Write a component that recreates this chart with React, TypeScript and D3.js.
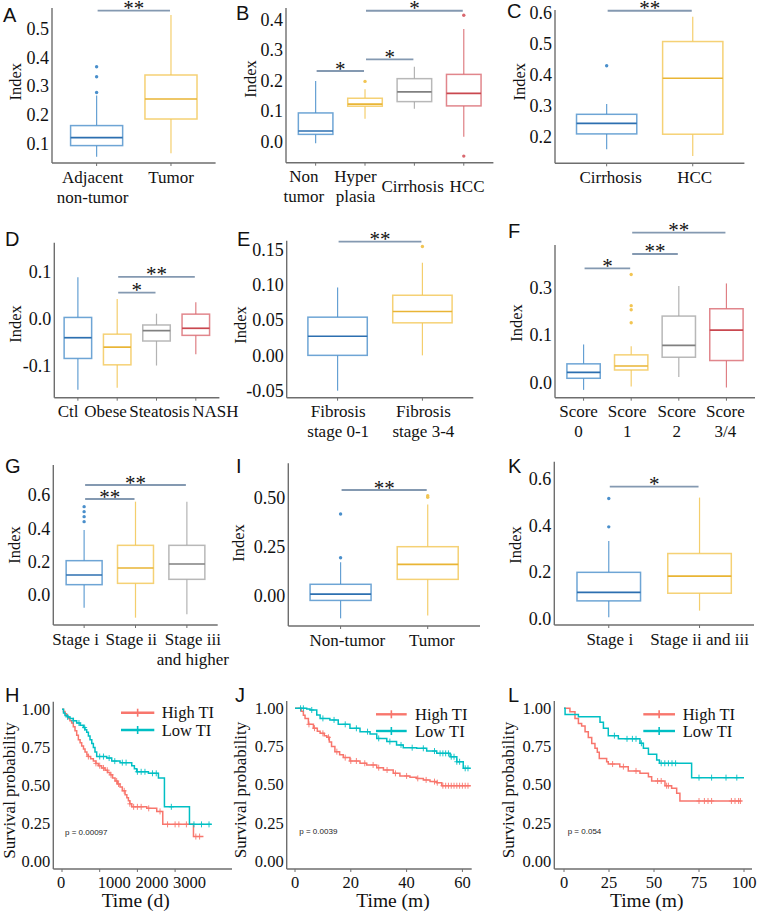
import React from "react";
import * as d3 from "d3";

const SERIF = "'Liberation Serif', 'Times New Roman', serif";
const SANS = "'Liberation Sans', Arial, sans-serif";
const GROUP_COLORS = ["#4A8FCB", "#F2C553", "#A6A6A6", "#D9686F"];
const MEDIAN_COLORS = ["#2C6FB0", "#E9B535", "#808080", "#C9474F"];
const SIG_COLOR = "#8499B1";
const AXIS_COLOR = "#6E6E6E";
const KM_COLORS = ["#F8766D", "#00BFC4"];
const KM_NAMES = ["High TI", "Low TI"];

// ---------- Box plot data: [lower whisker, Q1, median, Q3, upper whisker]
const catsA = ["Adjacent\nnon-tumor", "Tumor"];
const statsA = [[0.053, 0.092, 0.12, 0.162, 0.267], [0.065, 0.185, 0.255, 0.339, 0.549]];
const outliersA = [[0.278, 0.333, 0.368], []];
const ticksA = [0.1, 0.2, 0.3, 0.4, 0.5];
const tickLabelsA = ["0.1", "0.2", "0.3", "0.4", "0.5"];
const sigA = [{ a: 0, b: 1, y: 0.564, label: "**" }];

const catsB = ["Non\ntumor", "Hyper\nplasia", "Cirrhosis", "HCC"];
const statsB = [
  [-0.005, 0.024, 0.035, 0.094, 0.198],
  [0.075, 0.116, 0.123, 0.142, 0.171],
  [0.108, 0.131, 0.163, 0.206, 0.245],
  [0.016, 0.117, 0.158, 0.22, 0.368],
];
const outliersB = [[], [0.197], [], [0.413, -0.047]];
const ticksB = [0, 0.1, 0.2, 0.3, 0.4];
const tickLabelsB = ["0.0", "0.1", "0.2", "0.3", "0.4"];
const sigB = [
  { a: 0, b: 1, y: 0.231, label: "*" },
  { a: 1, b: 2, y: 0.269, label: "*" },
  { a: 1, b: 3, y: 0.428, label: "*" },
];

const catsC = ["Cirrhosis", "HCC"];
const statsC = [[0.16, 0.209, 0.243, 0.272, 0.305], [0.138, 0.208, 0.388, 0.506, 0.586]];
const outliersC = [[0.428], []];
const ticksC = [0.2, 0.3, 0.4, 0.5, 0.6];
const tickLabelsC = ["0.2", "0.3", "0.4", "0.5", "0.6"];
const sigC = [{ a: 0, b: 1, y: 0.605, label: "**" }];

const catsD = ["Ctl", "Obese", "Steatosis", "NASH"];
const statsD = [
  [-0.1505, -0.084, -0.04, 0.003, 0.088],
  [-0.146, -0.0975, -0.06, -0.0325, 0.042],
  [-0.099, -0.047, -0.025, -0.013, 0.011],
  [-0.075, -0.035, -0.02, 0.01, 0.035],
];
const outliersD = [[], [], [], []];
const ticksD = [-0.1, 0, 0.1];
const tickLabelsD = ["-0.1", "0.0", "0.1"];
const sigD = [
  { a: 1, b: 2, y: 0.0557, label: "*" },
  { a: 1, b: 3, y: 0.089, label: "**" },
];

const catsE = ["Fibrosis\nstage 0-1", "Fibrosis\nstage 3-4"];
const statsE = [[-0.05, 0, 0.027, 0.054, 0.096], [0.0, 0.046, 0.062, 0.085, 0.131]];
const outliersE = [[], [0.154]];
const ticksE = [-0.05, 0, 0.05, 0.1, 0.15];
const tickLabelsE = ["-0.05", "0.00", "0.05", "0.10", "0.15"];
const sigE = [{ a: 0, b: 1, y: 0.1608, label: "**" }];

const catsF = ["Score\n0", "Score\n1", "Score\n2", "Score\n3/4"];
const statsF = [
  [-0.016, 0.0085, 0.021, 0.039, 0.08],
  [-0.009, 0.026, 0.0345, 0.058, 0.076],
  [0.011, 0.053, 0.078, 0.18, 0.307],
  [-0.011, 0.046, 0.121, 0.211, 0.318],
];
const outliersF = [[], [0.152, 0.207, 0.224, 0.356], [], []];
const ticksF = [0, 0.1, 0.3];
const tickLabelsF = ["0.0", "0.1", "0.3"];
const sigF = [
  { a: 0, b: 1, y: 0.382, label: "*" },
  { a: 1, b: 2, y: 0.4425, label: "**" },
  { a: 1, b: 3, y: 0.533, label: "**" },
];

const catsG = ["Stage i", "Stage ii", "Stage iii\nand higher"];
const statsG = [
  [-0.076, 0.062, 0.12, 0.206, 0.39],
  [-0.136, 0.07, 0.162, 0.298, 0.56],
  [-0.116, 0.094, 0.186, 0.298, 0.56],
];
const outliersG = [[0.44, 0.47, 0.5, 0.53], [], []];
const ticksG = [0, 0.2, 0.4, 0.6];
const tickLabelsG = ["0.0", "0.2", "0.4", "0.6"];
const sigG = [
  { a: 0, b: 1, y: 0.576, label: "**" },
  { a: 0, b: 2, y: 0.66, label: "**" },
];

const catsI = ["Non-tumor", "Tumor"];
const statsI = [[-0.115, -0.024, 0.0085, 0.058, 0.17], [-0.1, 0.083, 0.159, 0.249, 0.464]];
const outliersI = [[0.193, 0.415], [0.5, 0.508]];
const ticksI = [0, 0.25, 0.5];
const tickLabelsI = ["0.00", "0.25", "0.50"];
const sigI = [{ a: 0, b: 1, y: 0.537, label: "**" }];

const catsK = ["Stage i", "Stage ii and iii"];
const statsK = [[0.004, 0.075, 0.112, 0.198, 0.333], [0.033, 0.108, 0.182, 0.279, 0.52]];
const outliersK = [[0.394, 0.516], []];
const ticksK = [0, 0.2, 0.4, 0.6];
const tickLabelsK = ["0.0", "0.2", "0.4", "0.6"];
const sigK = [{ a: 0, b: 1, y: 0.567, label: "*" }];

// ---------- Survival data: [time, survival] step points
const highH = [[0, 1.0], [40, 0.985], [80, 0.97], [120, 0.955], [168, 0.94], [210, 0.925], [257, 0.91], [300, 0.885], [345, 0.86], [390, 0.83], [434, 0.8], [480, 0.78], [522, 0.76], [570, 0.74], [611, 0.72], [660, 0.7], [699, 0.69], [760, 0.675], [832, 0.66], [900, 0.645], [965, 0.63], [1050, 0.615], [1142, 0.6], [1210, 0.585], [1274, 0.57], [1340, 0.55], [1407, 0.53], [1470, 0.51], [1540, 0.49], [1600, 0.465], [1673, 0.44], [1720, 0.42], [1761, 0.4], [1800, 0.38], [1850, 0.36], [2248, 0.35], [2513, 0.33], [2673, 0.245], [3487, 0.165]];
const lowH = [[0, 1.0], [40, 0.975], [80, 0.96], [150, 0.95], [212, 0.94], [300, 0.925], [389, 0.91], [480, 0.895], [566, 0.88], [610, 0.865], [655, 0.85], [700, 0.825], [743, 0.8], [790, 0.775], [832, 0.75], [875, 0.72], [920, 0.69], [1186, 0.68], [1319, 0.66], [1540, 0.65], [1850, 0.63], [1920, 0.61], [1982, 0.59], [2292, 0.58], [2558, 0.55], [2717, 0.36], [3381, 0.245]];
const endH = [3752, 3973];
const censorHighH = [700, 900, 1000, 1100, 1200, 1300, 1450, 1500, 1650, 1800, 1900, 2000, 2100, 2300, 2600, 2800, 3000, 3100, 3300, 3550, 3650];
const censorLowH = [150, 300, 450, 600, 1000, 1100, 1250, 1400, 1600, 1700, 2000, 2100, 2200, 2400, 2500, 2900, 3500, 3700, 3900];
const xTicksH = [0, 1000, 2000, 3000];

const highJ = [[0, 1.0], [2.2, 0.98], [3, 0.955], [3.6, 0.934], [4.8, 0.895], [6.6, 0.87], [8, 0.85], [9, 0.836], [10.5, 0.82], [11.4, 0.81], [12.3, 0.78], [13.1, 0.75], [14.3, 0.716], [16, 0.695], [17.3, 0.677], [19.7, 0.655], [23.3, 0.64], [25.7, 0.629], [29.3, 0.611], [31.7, 0.596], [35.2, 0.574], [37.6, 0.557], [41.2, 0.548], [43.6, 0.541], [46, 0.531], [48.4, 0.52], [50.8, 0.513], [52.6, 0.493]];
const lowJ = [[0, 1.0], [4.2, 0.995], [5.4, 0.989], [7.8, 0.956], [9, 0.934], [12.5, 0.924], [15.5, 0.895], [19.7, 0.869], [23.3, 0.847], [26.9, 0.832], [29.3, 0.803], [32.9, 0.782], [36.4, 0.76], [38.8, 0.742], [43.6, 0.738], [47.2, 0.72], [50.8, 0.705], [55.6, 0.683], [58, 0.65], [60.3, 0.607]];
const endJ = [63, 63];
const censorHighJ = [5, 7, 10, 12, 15, 18, 20, 22, 25, 28, 30, 33, 36, 40, 44, 47, 50, 51, 53, 54, 55, 56, 57, 58, 59, 60, 61, 62];
const censorLowJ = [2, 3, 6, 10, 14, 18, 22, 26, 30, 34, 38, 42, 46, 50, 52, 53, 54, 55, 56, 57, 58, 59, 61, 62];
const xTicksJ = [0, 20, 40, 60];

const highL = [[0, 1.0], [3.3, 0.978], [6.1, 0.934], [8, 0.9], [9.8, 0.884], [11.7, 0.847], [13.5, 0.808], [15.4, 0.77], [17.2, 0.738], [18.5, 0.712], [19.6, 0.672], [23.7, 0.65], [24.6, 0.635], [31, 0.618], [35.7, 0.59], [42.2, 0.574], [46.9, 0.552], [48.7, 0.524], [56.1, 0.493], [59.8, 0.476], [62.6, 0.443], [64.4, 0.393]];
const lowL = [[0, 1.0], [0.6, 0.96], [8, 0.945], [20, 0.908], [21.9, 0.869], [24.6, 0.821], [30.2, 0.8], [42.2, 0.771], [44.1, 0.738], [46.9, 0.699], [51.5, 0.662], [53, 0.64], [70.9, 0.546]];
const endL = [98.7, 100];
const censorHighL = [27, 33, 40, 52, 54, 57, 58, 75, 78, 80, 82, 93, 95, 97, 98];
const censorLowL = [28, 35, 38, 40, 43, 54, 56, 58, 60, 62, 75, 82, 90, 96];
const xTicksL = [0, 25, 50, 75, 100];

const survTicks = [0, 0.25, 0.5, 0.75, 1];
const survTickLabels = ["0.00", "0.25", "0.50", "0.75", "1.00"];

// ---------- layouts (pixel geometry)
const layA = { left: 52, right: 215.6, top: 8, bottom: 163, yDomain: [0.1, 0.5], yRange: [143.3, 29], letter: "A", lx: 3, ly: 21.7, ix: 15, iy: 81.7, centerSingle: false, labelDx: [-4, 0] };
const layB = { left: 286, right: 493.4, top: 8, bottom: 162.7, yDomain: [0, 0.4], yRange: [141.7, 19.3], letter: "B", lx: 236, ly: 20, ix: 250, iy: 79, centerSingle: true, labelDx: [-11.7, -9.5, -1.8, 3.3] };
const layC = { left: 555, right: 744.4, top: 10, bottom: 163.3, yDomain: [0.2, 0.6], yRange: [136.7, 12.3], letter: "C", lx: 507, ly: 17.7, ix: 519.3, iy: 81.7, centerSingle: false, labelDx: [4, 2] };
const layD = { left: 54.3, right: 219.4, top: 242.7, bottom: 397.7, yDomain: [-0.1, 0.1], yRange: [366, 271.7], letter: "D", lx: 5, ly: 245.7, ix: 15, iy: 324, centerSingle: false, labelDx: [-9.7, -11.6, 2.9, 19.5] };
const layE = { left: 286.7, right: 473.3, top: 240.7, bottom: 397.7, yDomain: [-0.05, 0.15], yRange: [390.7, 249.3], letter: "E", lx: 237, ly: 245.7, ix: 240, iy: 325, centerSingle: false, labelDx: [0.6, 1] };
const layF = { left: 555, right: 755, top: 245, bottom: 397.7, yDomain: [0, 0.1, 0.3], yRange: [382.3, 335, 287.7], letter: "F", lx: 508, ly: 238, ix: 516, iy: 323, centerSingle: false, labelDx: [-5, -4, -2, -1] };
const layG = { left: 53.3, right: 217.7, top: 465, bottom: 625, yDomain: [0, 0.6], yRange: [595, 495], letter: "G", lx: 5, ly: 473, ix: 14, iy: 545, centerSingle: false, labelDx: [-8.5, -4.2, 6] };
const layI = { left: 288.3, right: 480, top: 463.3, bottom: 626, yDomain: [0, 0.5], yRange: [595.7, 497.3], letter: "I", lx: 236, ly: 473.3, ix: 238, iy: 543, centerSingle: false, labelDx: [6.8, 4] };
const layK = { left: 554.3, right: 754, top: 461.7, bottom: 625, yDomain: [0, 0.6], yRange: [618.3, 479], letter: "K", lx: 508, ly: 473.3, ix: 515, iy: 545, centerSingle: false, labelDx: [1, 0] };

const kmH = { left: 53.3, right: 232, top: 701.7, bottom: 869, xDomain: [0, 1000], xRange: [62, 99.7], yRange: [861.7, 709.3], letter: "H", lx: 5, ly: 701.7, sx: 9.7, sy: 790.5, tx: 135.7, ty: 907, xTitle: "Time (d)", p: "p = 0.00097", px: 65, py: 831.7, legX1: 121, legX2: 154.3, legTX: 161.7, legY: [712.7, 730], xLabelDx: [-1, 14.5, 14.5, 14.5] };
const kmJ = { left: 286.7, right: 471.7, top: 701, bottom: 869, xDomain: [0, 20], xRange: [295, 350.8], yRange: [861, 708.3], letter: "J", lx: 235, ly: 701.7, sx: 240.8, sy: 790, tx: 393, ty: 906.7, xTitle: "Time (m)", p: "p = 0.0039", px: 299.3, py: 830.7, legX1: 376, legX2: 406.7, legTX: 415, legY: [714.3, 731], xLabelDx: [0, 0, 0, 0] };
const kmL = { left: 554.3, right: 752, top: 701, bottom: 869, xDomain: [0, 25], xRange: [564, 609], yRange: [861, 708.3], letter: "L", lx: 508, ly: 702.3, sx: 509, sy: 790, tx: 646.7, ty: 906.7, xTitle: "Time (m)", p: "p = 0.054", px: 567.7, py: 830.7, legX1: 643.3, legX2: 675, legTX: 682.7, legY: [714.3, 731], xLabelDx: [0, 0, 0, 0, 0] };

function BoxPanel({ cats, stats, outliers, ticks, tickLabels, sig, lay }: any) {
  const y = d3.scaleLinear().domain(lay.yDomain).range(lay.yRange);
  const x = d3.scalePoint<any>().domain(cats.map((_: any, i: number) => i)).range([lay.left, lay.right]).padding(0.6);
  const bw = x.step() * 0.7;
  const maxLines = Math.max(...cats.map((c: string) => c.split("\n").length));
  return (
    <g>
      <text x={lay.lx} y={lay.ly} fontFamily={SANS} fontSize={20} fill="#111">{lay.letter}</text>
      <text transform={`translate(${lay.ix},${lay.iy}) rotate(-90)`} textAnchor="middle" dy="0.35em" fontFamily={SERIF} fontSize={16.5} fill="#111">Index</text>
      <line x1={lay.left} x2={lay.left} y1={lay.top} y2={lay.bottom} stroke={AXIS_COLOR} strokeWidth={1.4} />
      <line x1={lay.left} x2={lay.right} y1={lay.bottom} y2={lay.bottom} stroke={AXIS_COLOR} strokeWidth={1.4} />
      {ticks.map((t: number, i: number) => (
        <text key={"t" + i} x={lay.left - 3} y={y(t)} dy="0.35em" textAnchor="end" fontFamily={SERIF} fontSize={18} fill="#111">{tickLabels[i]}</text>
      ))}
      {cats.map((c: string, i: number) => {
        const cx = x(i) as number;
        const s = stats[i];
        const col = GROUP_COLORS[i];
        const lines = c.split("\n");
        const base = lay.bottom + 19.5 + (lay.centerSingle && lines.length < maxLines ? 10 : 0);
        const lxp = cx + (lay.labelDx ? lay.labelDx[i] : 0);
        return (
          <g key={"c" + i}>
            <line x1={cx} x2={cx} y1={lay.bottom} y2={lay.bottom + 3} stroke={AXIS_COLOR} strokeWidth={1} />
            <line x1={cx} x2={cx} y1={y(s[4])} y2={y(s[3])} stroke={col} strokeWidth={1.2} strokeOpacity={0.85} />
            <line x1={cx} x2={cx} y1={y(s[1])} y2={y(s[0])} stroke={col} strokeWidth={1.2} strokeOpacity={0.85} />
            <rect x={cx - bw / 2} y={y(s[3])} width={bw} height={y(s[1]) - y(s[3])} fill="#fff" stroke={col} strokeWidth={1.5} strokeOpacity={0.8} />
            <line x1={cx - bw / 2} x2={cx + bw / 2} y1={y(s[2])} y2={y(s[2])} stroke={MEDIAN_COLORS[i]} strokeWidth={1.7} />
            {outliers[i].map((o: number, k: number) => (
              <circle key={k} cx={cx} cy={y(o)} r={1.7} fill={col} />
            ))}
            {lines.map((ln: string, k: number) => (
              <text key={"l" + k} x={lxp} y={base + k * 20} textAnchor="middle" fontFamily={SERIF} fontSize={17} fill="#111">{ln}</text>
            ))}
          </g>
        );
      })}
      {sig.map((sg: any, i: number) => {
        const x1 = (x(sg.a) as number) + 1;
        const x2 = (x(sg.b) as number) - 1;
        const yy = y(sg.y);
        return (
          <g key={"s" + i}>
            <line x1={x1} x2={x2} y1={yy} y2={yy} stroke={SIG_COLOR} strokeWidth={1.8} />
            <text x={(x1 + x2) / 2} y={yy + 4.5} textAnchor="middle" fontFamily={SERIF} fontSize={21} fill="#111">{sg.label}</text>
          </g>
        );
      })}
    </g>
  );
}

function stepAt(pts: number[][], t: number) {
  let v = pts[0][1];
  for (const p of pts) if (p[0] <= t) v = p[1];
  return v;
}

function KMPanel({ series, ends, censors, xTicks, lay }: any) {
  const x = d3.scaleLinear().domain(lay.xDomain).range(lay.xRange);
  const y = d3.scaleLinear().domain([0, 1]).range(lay.yRange);
  const line = d3.line<number[]>().x((d) => x(d[0])).y((d) => y(d[1])).curve(d3.curveStepAfter);
  return (
    <g>
      <text x={lay.lx} y={lay.ly} fontFamily={SANS} fontSize={20} fill="#111">{lay.letter}</text>
      <text transform={`translate(${lay.sx},${lay.sy}) rotate(-90)`} textAnchor="middle" dy="0.3em" fontFamily={SERIF} fontSize={17} fill="#111">Survival probability</text>
      <text x={lay.tx} y={lay.ty} textAnchor="middle" fontFamily={SERIF} fontSize={19.5} fill="#111">{lay.xTitle}</text>
      <line x1={lay.left} x2={lay.left} y1={lay.top} y2={lay.bottom} stroke={AXIS_COLOR} strokeWidth={1.4} />
      <line x1={lay.left} x2={lay.right} y1={lay.bottom} y2={lay.bottom} stroke={AXIS_COLOR} strokeWidth={1.4} />
      {survTicks.map((t, i) => (
        <text key={"y" + i} x={lay.left - 3} y={y(t)} dy="0.35em" textAnchor="end" fontFamily={SERIF} fontSize={16.5} fill="#111">{survTickLabels[i]}</text>
      ))}
      {xTicks.map((t: number, i: number) => (
        <g key={"x" + i}>
          <line x1={x(t)} x2={x(t)} y1={lay.bottom} y2={lay.bottom + 3} stroke={AXIS_COLOR} strokeWidth={1} />
          <text x={x(t) + lay.xLabelDx[i]} y={lay.bottom + 18.7} textAnchor="middle" fontFamily={SERIF} fontSize={16.5} fill="#111">{String(t)}</text>
        </g>
      ))}
      {series.map((pts: number[][], si: number) => {
        const full = [...pts, [ends[si], pts[pts.length - 1][1]]];
        return (
          <g key={"s" + si}>
            <path d={line(full) || ""} fill="none" stroke={KM_COLORS[si]} strokeWidth={1.5} />
            {censors[si].map((c: number, k: number) => {
              const cy = y(stepAt(pts, c));
              const cx = x(c);
              return (
                <g key={k} stroke={KM_COLORS[si]} strokeWidth={0.9}>
                  <line x1={cx} x2={cx} y1={cy - 3} y2={cy + 3} />
                  <line x1={cx - 2.5} x2={cx + 2.5} y1={cy} y2={cy} />
                </g>
              );
            })}
          </g>
        );
      })}
      <text x={lay.px} y={lay.py} dy="0.35em" fontFamily={SANS} fontSize={8} fill="#222">{lay.p}</text>
      {KM_NAMES.map((n, i) => (
        <g key={"lg" + i}>
          <line x1={lay.legX1} x2={lay.legX2} y1={lay.legY[i]} y2={lay.legY[i]} stroke={KM_COLORS[i]} strokeWidth={2.4} />
          <line x1={(lay.legX1 + lay.legX2) / 2} x2={(lay.legX1 + lay.legX2) / 2} y1={lay.legY[i] - 4} y2={lay.legY[i] + 4} stroke={KM_COLORS[i]} strokeWidth={1.6} />
          <text x={lay.legTX} y={lay.legY[i]} dy="0.35em" fontFamily={SERIF} fontSize={16.5} fill="#111">{n}</text>
        </g>
      ))}
    </g>
  );
}

export default function App() {
  return (
    <svg width={758} height={915} style={{ position: "absolute", left: 0, top: 0, background: "#fff" }}>
      <rect width={758} height={915} fill="#fff" />
      <BoxPanel cats={catsA} stats={statsA} outliers={outliersA} ticks={ticksA} tickLabels={tickLabelsA} sig={sigA} lay={layA} />
      <BoxPanel cats={catsB} stats={statsB} outliers={outliersB} ticks={ticksB} tickLabels={tickLabelsB} sig={sigB} lay={layB} />
      <BoxPanel cats={catsC} stats={statsC} outliers={outliersC} ticks={ticksC} tickLabels={tickLabelsC} sig={sigC} lay={layC} />
      <BoxPanel cats={catsD} stats={statsD} outliers={outliersD} ticks={ticksD} tickLabels={tickLabelsD} sig={sigD} lay={layD} />
      <BoxPanel cats={catsE} stats={statsE} outliers={outliersE} ticks={ticksE} tickLabels={tickLabelsE} sig={sigE} lay={layE} />
      <BoxPanel cats={catsF} stats={statsF} outliers={outliersF} ticks={ticksF} tickLabels={tickLabelsF} sig={sigF} lay={layF} />
      <BoxPanel cats={catsG} stats={statsG} outliers={outliersG} ticks={ticksG} tickLabels={tickLabelsG} sig={sigG} lay={layG} />
      <BoxPanel cats={catsI} stats={statsI} outliers={outliersI} ticks={ticksI} tickLabels={tickLabelsI} sig={sigI} lay={layI} />
      <BoxPanel cats={catsK} stats={statsK} outliers={outliersK} ticks={ticksK} tickLabels={tickLabelsK} sig={sigK} lay={layK} />
      <KMPanel series={[highH, lowH]} ends={endH} censors={[censorHighH, censorLowH]} xTicks={xTicksH} lay={kmH} />
      <KMPanel series={[highJ, lowJ]} ends={endJ} censors={[censorHighJ, censorLowJ]} xTicks={xTicksJ} lay={kmJ} />
      <KMPanel series={[highL, lowL]} ends={endL} censors={[censorHighL, censorLowL]} xTicks={xTicksL} lay={kmL} />
    </svg>
  );
}
